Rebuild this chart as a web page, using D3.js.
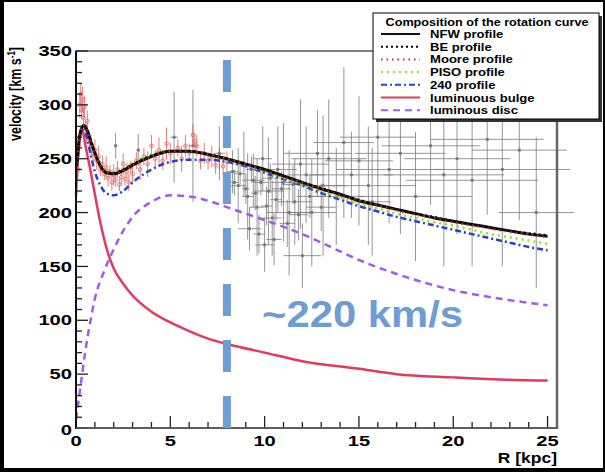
<!DOCTYPE html>
<html lang='en'>
<head>
<meta charset='utf-8'>
<title>Rotation curve</title>
<script src='https://cdn.jsdelivr.net/npm/d3@7'></script>
<style>
  body { margin: 0; background: #000; }
  text { font-family: 'Liberation Sans', Arial, sans-serif; font-weight: bold; }
</style>
</head>
<body>
<script>
// model curves: radius (kpc) and velocity (km/s)
var nfwR  = [0.05, 0.2, 0.4, 0.6, 0.8, 1.0, 1.3, 1.6, 2.0, 2.5, 3, 4, 5, 6, 7, 8, 9, 10, 11, 12, 13, 14, 15, 16, 17, 18, 19, 20, 21, 22, 23, 24, 25];
var nfwV  = [245, 272, 281, 276, 265, 255, 243, 237, 236, 239, 244, 252, 257, 257, 254, 250, 245, 240, 234, 228, 222, 217, 211, 207, 203, 199, 195, 192, 189, 186, 183, 180, 178];
var beV   = [243, 271, 280, 276, 266, 256, 244, 238, 237, 240, 245, 253, 257, 257, 254, 250, 245, 240, 234, 228, 223, 217, 212, 207, 203, 199, 196, 192, 189, 186, 183, 181, 179];
var mooreV= [246, 273, 281, 275, 264, 254, 243, 237, 236, 239, 244, 252, 257, 257, 254, 250, 245, 239, 233, 228, 222, 216, 211, 207, 202, 198, 195, 191, 188, 185, 182, 180, 177];
var pisoV = [244, 271, 280, 277, 268, 258, 246, 240, 238, 241, 246, 254, 258, 257, 254, 249, 244, 238, 232, 226, 220, 214, 208, 204, 199, 195, 191, 188, 184, 180, 177, 174, 171];
var p240V = [245, 270, 278, 268, 252, 238, 225, 218, 216, 220, 228, 240, 247, 249, 249, 247, 243, 237, 231, 225, 218, 212, 206, 201, 196, 192, 188, 184, 180, 176, 172, 168, 165];

var bulgeR = [0, 0.1, 0.2, 0.3, 0.5, 0.8, 1.0, 1.3, 1.6, 2.0, 2.5, 3, 4, 5, 6, 7, 8, 10, 12, 15, 17, 20, 22.5, 25];
var bulgeV = [215, 250, 270, 279, 262, 236, 217, 190, 168, 148, 134, 123, 108, 98, 90, 83, 78, 70, 62, 55, 50, 47, 45, 44];
var discR  = [0, 0.25, 0.5, 0.75, 1, 1.5, 2, 2.5, 3, 4, 5, 6, 7, 8, 9, 10, 12, 14, 15, 17, 20, 22.5, 25];
var discV  = [8, 40, 72, 98, 120, 146, 166, 183, 196, 210, 216, 215, 211, 205, 199, 193, 180, 164, 156, 143, 128, 120, 114];

// inner data (red): [R, v, dv]
var innerData = [
  [0.10,240,8],[0.15,262,10],[0.20,300,12],[0.25,310,10],[0.30,295,8],[0.35,305,12],[0.40,288,8],[0.45,298,10],
  [0.50,280,6],[0.55,272,8],[0.60,285,10],[0.70,268,8],[0.80,262,10],[0.90,255,8],[1.00,258,10],[1.10,248,8],
  [1.20,252,10],[1.30,240,6],[1.40,245,8],[1.50,236,6],[1.60,242,10],[1.70,232,8],[1.80,238,6],[1.90,228,8],
  [2.00,235,10],[2.10,230,6],[2.20,240,8],[2.30,226,6],[2.40,233,8],[2.50,245,10],[2.60,231,6],[2.70,238,8],
  [2.80,228,8],[2.90,242,6],[3.00,236,10],[3.20,248,8],[3.40,240,10],[3.60,252,8],[3.80,245,12],[4.00,262,10],
  [4.20,250,8],[4.40,258,12],[4.60,248,8],[4.80,264,15],[5.00,255,10],[5.40,260,8],[5.60,250,12],[5.80,262,10],
  [6.00,256,8],[6.20,272,10],[6.30,266,8],[6.40,262,10],[6.60,248,8],[6.80,255,10],[7.00,248,8],[7.20,252,10],
  [7.40,244,8],[7.60,250,10],[7.80,243,8],[8.00,247,10]
];
// outer data (gray): [R, v, dv, dR]
var outerData = [
  [2.1,262,12,0.1],[3.3,258,15,0.1],[5.2,270,42,0.2],[6.2,262,52,0.2],[7.6,255,25,0.3],
  [8.3,238,20,0.3],[8.6,225,35,0.4],[8.9,245,30,0.5],[9.1,215,40,0.3],[9.2,185,20,0.6],[9.4,230,25,0.6],
  [9.6,205,45,0.4],[9.9,250,30,0.5],[10.0,170,25,0.5],[10.2,220,50,0.8],[10.4,195,35,0.5],[10.7,240,40,1.0],
  [11.0,228,55,0.7],[11.3,200,58,1.2],[11.6,210,40,0.9],[11.9,245,60,1.5],[12.0,160,30,1.0],[12.2,235,45,1.0],
  [12.5,200,50,1.3],[12.8,255,40,1.8],[13.1,225,65,1.2],[13.4,250,55,2.0],[13.8,215,45,1.5],[14.2,265,70,1.6],
  [14.6,235,40,2.2],[15.0,248,60,1.8],[15.5,225,55,2.5],[15.7,210,50,1.0],[16.0,270,65,2.0],[16.6,240,50,2.8],
  [17.2,255,75,2.4],[18.0,215,60,3.0],[18.8,262,55,2.6],[19.5,235,85,3.2],[20.2,250,70,2.8],[21.0,230,80,3.5],
  [21.8,268,70,3.0],[22.6,240,90,3.6],[23.5,258,65,2.5],[24.4,200,70,2.0],
  [8.4,228,12,0.2],[8.7,236,10,0.3],[9.0,222,14,0.2],[9.3,240,12,0.3],[9.5,218,16,0.2],[9.8,228,12,0.4],
  [10.1,206,18,0.3],[10.3,232,14,0.4],[10.6,212,20,0.3],[10.9,222,16,0.5],[11.2,190,22,0.4],[11.5,226,18,0.6],
  [11.8,198,24,0.5],[12.4,215,20,0.7],[13.0,205,22,0.8],[9.7,180,18,0.3],[10.5,175,24,0.4]
];

var xTicks = [0, 5, 10, 15, 20, 25];
var yTicks = [0, 50, 100, 150, 200, 250, 300, 350];
var legendNames = ['NFW profile', 'BE profile', 'Moore profile', 'PISO profile', '240 profile', 'luminuous bulge', 'luminous disc'];

var width = 605, height = 472;
var svg = d3.select('body').append('svg').attr('width', width).attr('height', height);
svg.append('rect').attr('width', width).attr('height', height).attr('fill', '#000');
svg.append('rect').attr('x', 4).attr('y', 2).attr('width', 599).attr('height', 466).attr('fill', '#fff');

var x = d3.scaleLinear().domain([0, 25.5]).range([76, 557]);
var y = d3.scaleLinear().domain([0, 350]).range([428, 51]);

// data points
var gOut = svg.append('g').attr('stroke', '#444').attr('stroke-width', 0.8).attr('opacity', 0.7);
outerData.forEach(function(d) {
  gOut.append('line').attr('x1', x(d[0])).attr('x2', x(d[0])).attr('y1', y(d[1]-d[2])).attr('y2', y(d[1]+d[2]));
  gOut.append('line').attr('x1', x(Math.max(0, d[0]-d[3]))).attr('x2', x(d[0]+d[3])).attr('y1', y(d[1])).attr('y2', y(d[1]));
  gOut.append('rect').attr('x', x(d[0])-1).attr('y', y(d[1])-1).attr('width', 2).attr('height', 2).attr('fill', '#333');
});
var gIn = svg.append('g').attr('stroke', '#e03c3c').attr('stroke-width', 0.9).attr('opacity', 0.75).attr('fill', 'none');
innerData.forEach(function(d) {
  gIn.append('line').attr('x1', x(d[0])).attr('x2', x(d[0])).attr('y1', y(d[1]-d[2])).attr('y2', y(d[1]+d[2]));
  gIn.append('circle').attr('cx', x(d[0])).attr('cy', y(d[1])).attr('r', 1.8);
});

// curves
function series(R, V) { return R.map(function(r, i) { return [r, V[i]]; }); }
var line = d3.line().x(d => x(d[0])).y(d => y(d[1])).curve(d3.curveMonotoneX);
var styles = [
  {data: series(discR, discV),  color: '#a15be6', w: 2.5, dash: '7,5'},
  {data: series(bulgeR, bulgeV),color: '#e23a5c', w: 2.5, dash: null},
  {data: series(nfwR, p240V),   color: '#2b3fd0', w: 2.5, dash: '6,3,2,3'},
  {data: series(nfwR, pisoV),   color: '#8fe020', w: 2.5, dash: '2,4'},
  {data: series(nfwR, nfwV),    color: '#111', w: 3, dash: null},
  {data: series(nfwR, beV),     color: '#000', w: 2, dash: '2,3'},
  {data: series(nfwR, mooreV),  color: '#d02a20', w: 2, dash: '1.5,4'}
];
styles.forEach(function(s) {
  svg.append('path').attr('d', line(s.data)).attr('fill', 'none').attr('stroke', s.color)
     .attr('stroke-width', s.w).attr('stroke-dasharray', s.dash);
});

// frame and axes (ROOT style ticks inside)
svg.append('rect').attr('x', 76).attr('y', 51).attr('width', 481).attr('height', 377)
   .attr('fill', 'none').attr('stroke', '#555').attr('stroke-width', 1.5);
svg.append('line').attr('x1', 557).attr('x2', 557).attr('y1', 51).attr('y2', 429).attr('stroke', '#666').attr('stroke-width', 2.5);
var xAxis = svg.append('g');
d3.range(0, 26, 1).forEach(function(t) {
  var major = t % 5 == 0;
  xAxis.append('line').attr('x1', x(t)).attr('x2', x(t)).attr('y1', 428).attr('y2', 428 - (major ? 12 : 6))
       .attr('stroke', '#222').attr('stroke-width', 1.3);
});
d3.range(0, 351, 10).forEach(function(t) {
  var major = t % 50 == 0;
  xAxis.append('line').attr('x1', 76).attr('x2', 76 + (major ? 12 : 6)).attr('y1', y(t)).attr('y2', y(t))
       .attr('stroke', '#222').attr('stroke-width', 1.3);
});
svg.append('line').attr('x1', 76).attr('x2', 76).attr('y1', 51).attr('y2', 429).attr('stroke', '#111').attr('stroke-width', 2);
svg.append('line').attr('x1', 76).attr('x2', 557).attr('y1', 428).attr('y2', 428).attr('stroke', '#555').attr('stroke-width', 1.3);

xTicks.forEach(function(t) {
  svg.append('text').attr('transform', 'translate(' + x(t) + ',446) scale(1.3,1)')
     .attr('text-anchor', 'middle').attr('font-size', 15.5).text(t);
});
yTicks.forEach(function(t) {
  svg.append('text').attr('transform', 'translate(72,' + (y(t) + (t == 0 ? 2 : 0)) + ') scale(1.3,1)')
     .attr('text-anchor', 'end').attr('dominant-baseline', 'central').attr('font-size', 15.5).text(t);
});
svg.append('text').attr('transform', 'translate(557,463) scale(1.25,1)').attr('text-anchor', 'end')
   .attr('font-size', 14).text('R [kpc]');
var yl = svg.append('text').attr('transform', 'translate(21,47) rotate(-90) scale(1,1.3)').attr('text-anchor', 'end')
   .attr('font-size', 12.5);
yl.append('tspan').text('velocity [km s');
yl.append('tspan').attr('font-size', 8).attr('dy', -5).text('-1');
yl.append('tspan').attr('dy', 5).text(']');

// 8 kpc marker
svg.append('line').attr('x1', x(8)).attr('x2', x(8)).attr('y1', 60).attr('y2', 428)
   .attr('stroke', '#6d9dd3').attr('stroke-width', 8).attr('stroke-dasharray', '32,24');
svg.append('text').attr('transform', 'translate(262,327) scale(1.13,1)').attr('font-size', 37)
   .attr('fill', '#6d9dd3').text('~220 km/s');

// legend
var lg = svg.append('g');
lg.append('rect').attr('x', 376).attr('y', 16).attr('width', 226).attr('height', 106).attr('fill', '#333');
lg.append('rect').attr('x', 373).attr('y', 13).attr('width', 226).attr('height', 106).attr('fill', '#fff')
  .attr('stroke', '#000').attr('stroke-width', 1);
lg.append('text').attr('transform', 'translate(487,26) scale(1.15,1)').attr('text-anchor', 'middle')
  .attr('font-size', 11).text('Composition of the rotation curve');
var legendStyles = [styles[4], styles[5], styles[6], styles[3], styles[2], styles[1], styles[0]];
legendNames.forEach(function(n, i) {
  var ly = 34 + i * 12.7;
  var s = legendStyles[i];
  lg.append('line').attr('x1', 381).attr('x2', 420).attr('y1', ly).attr('y2', ly)
    .attr('stroke', s.color).attr('stroke-width', Math.min(s.w, 2)).attr('stroke-dasharray', s.dash);
  lg.append('text').attr('transform', 'translate(430,' + (ly + 4) + ') scale(1.19,1)')
    .attr('font-size', 11).text(n);
});
</script>
</body>
</html>
